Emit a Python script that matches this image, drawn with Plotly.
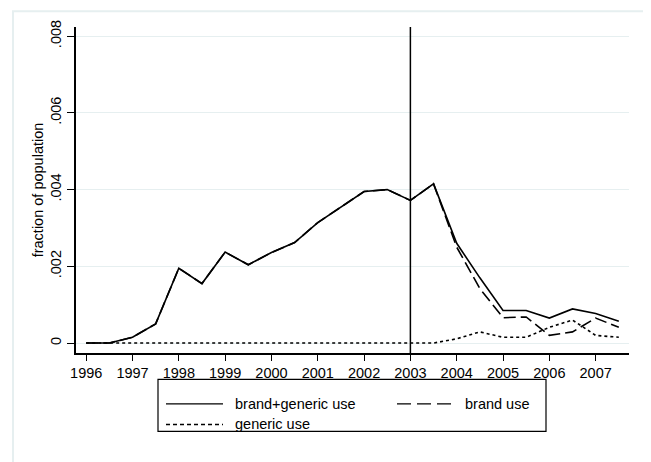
import plotly.graph_objects as go

# ---- data ----
periods = [1996 + 0.5 * i for i in range(24)]
brand_generic = [0.0, 0.0, 0.00015, 0.0005, 0.00195, 0.00155, 0.00237, 0.00204,
                 0.00236, 0.00262, 0.00314, 0.00355, 0.00395, 0.00400, 0.00372, 0.00415,
                 0.00260, 0.00170, 0.00085, 0.00085, 0.00065, 0.00089, 0.00077, 0.00057]
brand = [0.0, 0.0, 0.00015, 0.0005, 0.00195, 0.00155, 0.00237, 0.00204,
         0.00236, 0.00262, 0.00314, 0.00355, 0.00395, 0.00400, 0.00372, 0.00415,
         0.00250, 0.00142, 0.00066, 0.00068, 0.00020, 0.00029, 0.00065, 0.00041]
generic = [0.0, 0.0, 0.0, 0.0, 0.0, 0.0, 0.0, 0.0,
           0.0, 0.0, 0.0, 0.0, 0.0, 0.0, 0.0, 0.0,
           0.00011, 0.00029, 0.00015, 0.00015, 0.00041, 0.00060, 0.00020, 0.00015]
series_names = ["brand+generic use", "brand use", "generic use"]
x_ticks = list(range(1996, 2008))
y_ticks = [0, 0.002, 0.004, 0.006, 0.008]
y_tick_labels = ["0", ".002", ".004", ".006", ".008"]
event_year = 2003

FONT = "Liberation Sans, Arial, Helvetica, sans-serif"
FS = 14.5
GRID = "#e6eff0"

fig = go.Figure()
fig.add_trace(go.Scatter(x=periods, y=brand_generic, mode="lines", name=series_names[0],
                         line=dict(color="black", width=1.6)))
fig.add_trace(go.Scatter(x=periods, y=brand, mode="lines", name=series_names[1],
                         line=dict(color="black", width=1.6, dash="12px,5px")))
fig.add_trace(go.Scatter(x=periods, y=generic, mode="lines", name=series_names[2],
                         line=dict(color="black", width=1.6, dash="3px,3px")))

# vertical reference line
fig.add_shape(type="line", xref="x", yref="paper", x0=event_year, x1=event_year,
              y0=0, y1=1, line=dict(color="black", width=1.5))

# plot area in page pixels: x 76..629, y 20..353 (page has 8px body margin)
def px_x(p):
    return (p - 76) / 553

def px_y(p):
    return (353 - p) / 333

# outer graph-region frame
fig.add_shape(type="rect", xref="paper", yref="paper",
              x0=px_x(13), x1=px_x(645), y0=px_y(466), y1=px_y(4),
              line=dict(color=GRID, width=2), fillcolor="rgba(0,0,0,0)", layer="below")

# manual legend (Stata style)
fig.add_shape(type="rect", xref="paper", yref="paper",
              x0=px_x(158), x1=px_x(546), y0=px_y(433), y1=px_y(380),
              line=dict(color="black", width=1.2), fillcolor="white")
legend_items = [
    (166, 223, 405, "solid", series_names[0], 235),
    (397, 455, 405, "14px,6px", series_names[1], 465),
    (166, 223, 426, "4px,3px", series_names[2], 235),
]
for x0, x1, yy, dash, label, tx in legend_items:
    fig.add_shape(type="line", xref="paper", yref="paper",
                  x0=px_x(x0), x1=px_x(x1), y0=px_y(yy), y1=px_y(yy),
                  line=dict(color="black", width=1.4, dash=dash))
    fig.add_annotation(xref="paper", yref="paper", x=px_x(tx), y=px_y(yy),
                       text=label, showarrow=False, xanchor="left", yanchor="middle",
                       xshift=-2, font=dict(family=FONT, size=FS, color="black"))

fig.update_layout(
    width=643, height=454,
    margin=dict(l=68, r=22, t=12, b=109),
    paper_bgcolor="white", plot_bgcolor="white",
    showlegend=False,
    font=dict(family=FONT, size=FS, color="black"),
    xaxis=dict(range=[1995.78, 2007.72], tickmode="array", tickvals=x_ticks,
               ticktext=[str(t) for t in x_ticks],
               showgrid=False, zeroline=False, showline=True, linecolor="black",
               linewidth=1.5, ticks="outside", ticklen=6, tickwidth=1.2, tickcolor="black",
               tickfont=dict(family=FONT, size=FS)),
    yaxis=dict(range=[-0.00026, 0.00824], tickmode="array", tickvals=y_ticks,
               ticktext=y_tick_labels, tickangle=-90,
               showgrid=True, gridcolor=GRID, gridwidth=1.2, zeroline=False,
               showline=True, linecolor="black", linewidth=1.5,
               ticks="outside", ticklen=7, tickwidth=1.2, tickcolor="black",
               tickfont=dict(family=FONT, size=FS),
               title=dict(text="fraction of population", standoff=1,
                          font=dict(family=FONT, size=FS))),
)

fig.write_html("out.html")
